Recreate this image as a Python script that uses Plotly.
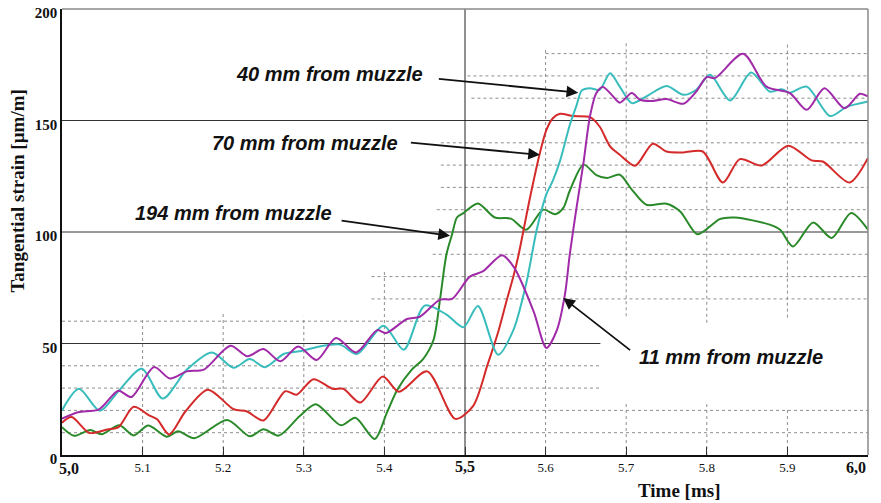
import plotly.graph_objects as go

# ---------------- data ----------------
t_11mm = [5.000, 5.020, 5.046, 5.070, 5.086, 5.114, 5.134, 5.155, 5.176, 5.209, 5.230, 5.250, 5.271, 5.293,
          5.316, 5.340, 5.365, 5.391, 5.402, 5.428, 5.444, 5.469, 5.484, 5.506, 5.522, 5.546, 5.561, 5.585,
          5.601, 5.614, 5.624, 5.630, 5.638, 5.647, 5.655, 5.663, 5.671, 5.682, 5.692, 5.707, 5.717, 5.733,
          5.750, 5.771, 5.787, 5.800, 5.810, 5.845, 5.874, 5.903, 5.924, 5.946, 5.971, 5.990, 6.000]
s_11mm = [16.3, 19.2, 20.5, 28.8, 26.0, 39.4, 34.3, 37.5, 38.3, 49.0, 44.3, 47.5, 42.0, 48.7,
          42.6, 52.5, 46.0, 56.0, 54.7, 61.0, 62.0, 69.7, 70.0, 80.0, 82.3, 89.6, 84.0, 64.5,
          48.0, 56.0, 72.0, 90.0, 110.0, 131.0, 151.8, 162.3, 165.0, 161.5, 158.0, 162.3, 159.3, 158.8,
          159.6, 157.5, 163.0, 169.5, 169.0, 179.9, 165.2, 162.3, 154.8, 164.5, 155.5, 162.0, 160.8]

t_40mm = [5.000, 5.021, 5.047, 5.070, 5.099, 5.125, 5.155, 5.186, 5.213, 5.233, 5.252, 5.275, 5.295, 5.320,
          5.345, 5.366, 5.399, 5.424, 5.450, 5.477, 5.498, 5.516, 5.541, 5.560, 5.576, 5.589, 5.601, 5.609,
          5.618, 5.630, 5.638, 5.645, 5.655, 5.667, 5.680, 5.692, 5.707, 5.725, 5.750, 5.771, 5.787, 5.804,
          5.829, 5.855, 5.878, 5.893, 5.903, 5.924, 5.953, 5.973, 6.000]
s_40mm = [20.0, 29.7, 19.8, 28.6, 38.7, 25.3, 38.3, 46.0, 39.1, 43.0, 39.4, 45.3, 46.5, 48.7,
          49.5, 45.3, 58.0, 47.2, 67.0, 63.0, 57.3, 66.8, 45.0, 56.0, 77.0, 101.0, 117.0, 123.0,
          132.0, 148.0, 156.3, 163.5, 164.5, 163.8, 171.2, 165.2, 157.8, 160.8, 165.5, 161.5, 163.8, 170.5,
          159.0, 171.5, 163.0, 164.0, 162.5, 165.2, 152.0, 156.0, 158.5]

t_70mm = [5.000, 5.012, 5.034, 5.056, 5.070, 5.089, 5.108, 5.118, 5.133, 5.153, 5.181, 5.213, 5.229, 5.250,
          5.277, 5.291, 5.312, 5.336, 5.349, 5.370, 5.398, 5.418, 5.453, 5.488, 5.510, 5.528, 5.542, 5.552,
          5.560, 5.566, 5.581, 5.593, 5.601, 5.609, 5.618, 5.634, 5.655, 5.667, 5.680, 5.692, 5.711, 5.733,
          5.750, 5.771, 5.795, 5.820, 5.841, 5.868, 5.901, 5.930, 5.944, 5.977, 6.000]
s_70mm = [14.5, 17.0, 9.9, 11.4, 12.5, 21.6, 17.8, 16.0, 9.2, 19.5, 29.3, 20.5, 19.6, 15.5,
          28.6, 27.0, 34.0, 29.7, 29.7, 23.5, 35.2, 28.4, 37.5, 16.2, 21.9, 40.5, 56.2, 69.7,
          80.0, 89.0, 116.0, 135.5, 145.8, 151.0, 153.0, 152.0, 151.5, 147.3, 138.4, 134.6, 129.7, 139.6,
          136.1, 135.7, 136.1, 122.2, 132.7, 129.8, 138.7, 132.1, 131.6, 122.2, 133.2]

t_194mm = [5.000, 5.015, 5.035, 5.049, 5.071, 5.089, 5.107, 5.130, 5.144, 5.164, 5.205, 5.233, 5.250, 5.269,
           5.295, 5.315, 5.346, 5.364, 5.388, 5.403, 5.416, 5.434, 5.448, 5.461, 5.469, 5.477, 5.484, 5.490,
           5.498, 5.516, 5.537, 5.557, 5.576, 5.597, 5.612, 5.622, 5.630, 5.647, 5.663, 5.676, 5.692, 5.707,
           5.725, 5.750, 5.767, 5.788, 5.804, 5.816, 5.835, 5.878, 5.891, 5.907, 5.932, 5.955, 5.979, 6.000]
s_194mm = [12.5, 8.6, 11.2, 9.3, 13.3, 8.8, 13.2, 8.2, 10.7, 7.5, 15.7, 8.4, 11.5, 8.7,
           17.5, 22.8, 13.3, 16.7, 7.2, 18.9, 29.3, 38.3, 43.0, 51.7, 69.7, 90.0, 99.0, 106.5,
           108.5, 112.8, 106.5, 106.0, 101.0, 110.0, 108.0, 110.8, 118.5, 130.2, 125.5, 124.2, 125.7, 119.0,
           112.2, 112.7, 109.2, 99.0, 102.5, 105.8, 106.5, 103.3, 101.0, 93.5, 104.3, 97.3, 108.5, 101.0]

series_names = ["194 mm from muzzle", "70 mm from muzzle", "40 mm from muzzle", "11 mm from muzzle"]

x_tick_vals = [5.0, 5.1, 5.2, 5.3, 5.4, 5.5, 5.6, 5.7, 5.8, 5.9, 6.0]
x_tick_text = ["5,0", "5.1", "5.2", "5.3", "5.4", "5,5", "5.6", "5.7", "5.8", "5.9", "6,0"]
y_tick_vals = [0, 50, 100, 150, 200]
y_tick_text = ["0", "50", "100", "150", "200"]

# ---------------- figure ----------------
colors = ["#2a8a2a", "#d42a2a", "#38bcbc", "#a02aa8"]
fig = go.Figure()
for name, tx, sy, c in zip(series_names,
                           [t_194mm, t_70mm, t_40mm, t_11mm],
                           [s_194mm, s_70mm, s_40mm, s_11mm], colors):
    fig.add_trace(go.Scatter(x=tx, y=sy, mode="lines", name=name,
                             line=dict(color=c, width=2, shape="spline", smoothing=0.8)))

shapes = []
dot = dict(color="#8e8e8e", width=1, dash="dot")
solid = dict(color="#333333", width=1)
# horizontal dotted grid segments (value, from, to)
for v, a, b in [(10, 5.0, 6.0), (20, 5.0, 6.0), (30, 5.0, 5.67), (40, 5.0, 5.67), (60, 5.0, 5.47),
                (70, 5.384, 6.0), (80, 5.384, 6.0), (90, 5.46, 6.0),
                (110, 5.465, 6.0), (120, 5.47, 6.0), (130, 5.47, 6.0), (140, 5.47, 6.0),
                (160, 5.508, 6.0), (170, 5.503, 6.0), (180, 5.6, 6.0)]:
    shapes.append(dict(type="line", xref="x", yref="y", x0=a, x1=b, y0=v, y1=v, line=dot, layer="below"))
# vertical dotted grid segments (time, from, to)
for t, a, b in [(5.1, 0, 61.5), (5.2, 0, 63.5), (5.3, 0, 62), (5.4, 0, 83), (5.6, 0, 182.4),
                (5.7, 62.2, 184.8), (5.7, 0, 23.4), (5.8, 59.3, 182.4), (5.8, 0, 24),
                (5.9, 61.6, 184.7), (5.9, 0, 20.4)]:
    shapes.append(dict(type="line", xref="x", yref="y", x0=t, x1=t, y0=a, y1=b, line=dot, layer="below"))
# solid grid lines
shapes.append(dict(type="line", xref="x", yref="y", x0=5.0, x1=5.668, y0=50, y1=50, line=solid, layer="below"))
shapes.append(dict(type="line", xref="x", yref="y", x0=5.0, x1=6.0, y0=100, y1=100, line=solid, layer="below"))
shapes.append(dict(type="line", xref="x", yref="y", x0=5.0, x1=6.0, y0=150, y1=150, line=solid, layer="below"))
shapes.append(dict(type="line", xref="x", yref="y", x0=5.5, x1=5.5, y0=0, y1=200, line=dict(color="#222222", width=1), layer="below"))
# gray frame top/right
shapes.append(dict(type="line", xref="paper", yref="paper", x0=0, x1=1, y0=1, y1=1, line=dict(color="#8a8a8a", width=1.5)))
shapes.append(dict(type="line", xref="paper", yref="paper", x0=1, x1=1, y0=0, y1=1, line=dict(color="#8a8a8a", width=1.5)))

BIG = "<b><span style='font-size:16px'>{}</span></b>"
last = len(x_tick_text) - 1
def fmt_x(s, i):
    if i in (0, last):
        return ""  # first/last drawn as aligned annotations below
    if "," in s:
        return BIG.format(s)
    return s

ann = []
lab_font = dict(family="Liberation Sans", size=20, color="#111111", weight="bold", style="italic")
for text, (tx, ty), (hx, hy), (ax_, ay_) in [
        (series_names[2], (5.3313, 170.9), (5.6405, 162.5), (5.4657, 168.7)),
        (series_names[1], (5.301, 139.9), (5.593, 134.6), (5.431, 140.1)),
        (series_names[0], (5.2124, 108.5), (5.4814, 98.3), (5.345, 105.2)),
        (series_names[3], (5.830, 44.0), (5.6219, 70.4), (5.7067, 46.5))]:
    ann.append(dict(x=tx, y=ty, xref="x", yref="y", text=text, showarrow=False, font=lab_font))
    ann.append(dict(x=hx, y=hy, xref="x", yref="y", ax=ax_, ay=ay_, axref="x", ayref="y",
                    text="", showarrow=True, arrowhead=2, arrowsize=1.3, arrowwidth=1.8, arrowcolor="#111111"))
ann.append(dict(x=-0.0548, y=0.5925, xref="paper", yref="paper", xanchor="center", yanchor="middle",
                text="<b>Tangential strain [µm/m]</b>", textangle=-90, showarrow=False,
                font=dict(family="Liberation Serif", size=19, color="#111111")))
ann.append(dict(x=5.7667, y=-0.0806, xref="x", yref="paper", xanchor="center", yanchor="middle",
                text="<b>Time [ms]</b>", showarrow=False,
                font=dict(family="Liberation Serif", size=19, color="#111111")))
tick_font = dict(family="Liberation Serif", size=13, color="#111111")
ann.append(dict(x=-0.0058, y=-0.0305, xref="paper", yref="paper", xanchor="left", yanchor="middle",
                text=BIG.format(x_tick_text[0]), showarrow=False, font=tick_font))
ann.append(dict(x=1.0, y=-0.028, xref="paper", yref="paper", xanchor="right", yanchor="middle",
                text=BIG.format(x_tick_text[last]), showarrow=False, font=tick_font))

fig.update_layout(
    width=881, height=503,
    margin=dict(l=62, r=13, t=9, b=48),
    paper_bgcolor="white", plot_bgcolor="white",
    showlegend=False,
    shapes=shapes, annotations=ann,
    xaxis=dict(range=[5.0, 6.0], automargin=False, showgrid=False, zeroline=False, showline=True,
               linecolor="#111111", linewidth=1.5, ticks="inside", ticklen=8, tickcolor="#333333",
               tickvals=x_tick_vals, ticktext=[fmt_x(s, i) for i, s in enumerate(x_tick_text)],
               ticklabeloverflow="allow", tickfont=tick_font),
    yaxis=dict(range=[0, 200], automargin=False, showgrid=False, zeroline=False, showline=True,
               linecolor="#111111", linewidth=1.5, ticks="", tickvals=y_tick_vals,
               ticktext=["<b>" + s + "</b>" for s in y_tick_text],
               ticklabeloverflow="allow", ticklabelshift=4,
               tickfont=dict(family="Liberation Serif", size=15, color="#111111")),
)

fig.write_html("out.html", config={"displayModeBar": False},
               post_script="document.body.style.margin='0';document.body.style.padding='0';"
                           "document.documentElement.style.overflow='hidden';")
